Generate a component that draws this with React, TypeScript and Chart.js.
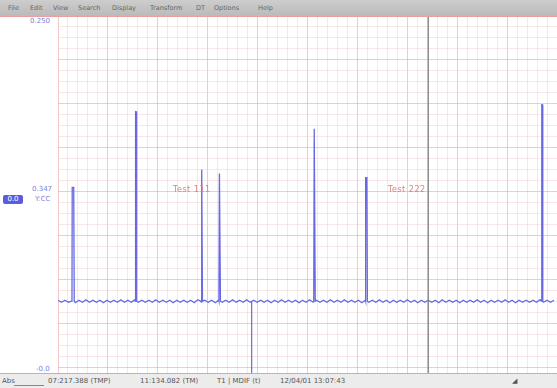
import React, { useEffect, useRef } from "react";
import { Chart, registerables } from "chart.js";

Chart.register(...registerables);

// Time axis in units (2 units per pixel column), value axis in trace units
const X_MIN = 0;
const X_MAX = 1000;
const Y_MIN = -72;
const Y_MAX = 285;

// Baseline ripple samples (every 7 time units)
const RIPPLE_STEP = 7;
const RIPPLE = [
  1, -1, 1, -1, 1, -1.5, 1, -1, 1.5, -1, 1, -1, 1, -1.5, 1, -1, 1, -1, 1.5, -1,
  1, -1, 1.5, -1, 1, -1, 1, -1, 1.5, -1, 1, -1, 1, -1.5, 1, -1, 1, -1, 1, -1.5,
  1.5, -1, 1, -1, 1, -1.5, 1, -1, 1, -1, 1.5, -1, 1, -1, 1.5, -1, 1, -1, 1, -1,
  1, -1.5, 1, -1, 1.5, -1, 1, -1, 1, -1.5, 1, -1, 1.5, -1, 1, -1, 1, -1, 1.5, -1,
  1, -1, 1.5, -1, 1, -1, 1, -1.5, 1, -1, 1, -1, 1.5, -1, 1, -1.5, 1, -1, 1, -1,
  1.5, -1, 1, -1.5, 1, -1, 1, -1, 1, -1.5, 1.5, -1, 1, -1, 1, -1.5, 1, -1, 1, -1,
  1.5, -1, 1, -1.5, 1, -1, 1, -1, 1.5, -1, 1, -1.5, 1, -1, 1, -1, 1, -1, 1.5, -1,
  1, -1, 1,
];

// Spikes: position and peak height
const SPIKE_X = [30, 156, 288, 324, 514, 618, 970];
const SPIKE_H = [114, 190, 132, 128, 173, 124, 197];
const SPIKE_W = [3, 1, 1, 1, 1, 2, 1];

// Negative glitch
const DIP_X = [388];
const DIP_Y = [-80];

// Cursor
const CURSOR_X = 742;

const MENU_ITEMS = ["File", "Edit", "View", "Search", "Display", "Transform", "DT", "Options", "Help"];
const MENU_LEFT = [8, 30, 53, 78, 112, 150, 196, 214, 258];

export default function App() {
  const ref = useRef<HTMLCanvasElement | null>(null);

  useEffect(() => {
    document.body.style.margin = "0";
    const pts: { x: number; y: number }[] = [];
    RIPPLE.forEach((v, i) => pts.push({ x: i * RIPPLE_STEP, y: v }));
    SPIKE_X.forEach((sx, i) => {
      const w = SPIKE_W[i];
      pts.push({ x: sx - 1 - w / 2, y: 0 });
      pts.push({ x: sx - w / 2, y: SPIKE_H[i] });
      pts.push({ x: sx + w / 2, y: SPIKE_H[i] });
      pts.push({ x: sx + 1 + w / 2, y: 0 });
    });
    const dipPts = DIP_X.map((dx, i) => [
      { x: dx, y: 0 },
      { x: dx, y: DIP_Y[i] },
    ]).flat();
    pts.sort((a, b) => a.x - b.x);

    const xMinor = (v: number) => (v % 100 === 0 ? "rgba(236,165,165,0.6)" : "rgba(244,205,205,0.5)");
    const yMinor = (v: number) => ((v - 110) % 44 === 0 ? "rgba(236,165,165,0.6)" : "rgba(244,205,205,0.5)");

    const chart = new Chart(ref.current!, {
      type: "line",
      data: {
        datasets: [
          {
            data: [{ x: CURSOR_X, y: Y_MIN }, { x: CURSOR_X, y: Y_MAX }],
            borderColor: "rgba(125,125,125,0.85)",
            borderWidth: 1.5,
            pointRadius: 0,
          },
          {
            data: dipPts,
            borderColor: "rgba(110,110,225,0.8)",
            borderWidth: 1,
            pointRadius: 0,
          },
          {
            data: pts,
            borderColor: "rgb(104,104,228)",
            borderWidth: 1.3,
            pointRadius: 0,
            tension: 0,
          },
        ],
      },
      options: {
        animation: false,
        responsive: false,
        maintainAspectRatio: false,
        layout: { padding: 0 },
        plugins: { legend: { display: false }, tooltip: { enabled: false } },
        scales: {
          x: {
            type: "linear",
            min: X_MIN,
            max: X_MAX,
            border: { display: false },
            ticks: { display: false },
            grid: {
              drawTicks: false,
              color: (ctx: any) => xMinor(ctx.tick.value),
              lineWidth: 1,
            },
            afterBuildTicks: (s: any) => {
              const t = [];
              for (let v = X_MIN; v <= X_MAX; v += 20) t.push({ value: v });
              s.ticks = t;
            },
          },
          y: {
            type: "linear",
            min: Y_MIN,
            max: Y_MAX,
            border: { display: false },
            ticks: { display: false },
            grid: {
              drawTicks: false,
              color: (ctx: any) => yMinor(ctx.tick.value),
              lineWidth: 1,
            },
            afterBuildTicks: (s: any) => {
              const t = [];
              for (let v = -66; v <= Y_MAX; v += 11) t.push({ value: v });
              s.ticks = t;
            },
          },
        },
      },
    });
    return () => chart.destroy();
  }, []);

  const small: React.CSSProperties = {
    position: "absolute",
    fontFamily: "'DejaVu Sans', sans-serif",
    fontSize: 7,
    lineHeight: "8px",
    whiteSpace: "nowrap",
  };

  return (
    <div style={{ position: "relative", width: 557, height: 388, background: "#fff", overflow: "hidden" }}>
      {/* menu bar */}
      <div
        style={{
          position: "absolute",
          left: 0,
          top: 0,
          width: 557,
          height: 16,
          background: "linear-gradient(#cdcdcd,#bababa)",
          borderBottom: "1px solid #e8a0a0",
        }}
      >
        {MENU_ITEMS.map((m, i) => (
          <span key={m} style={{ ...small, top: 4, left: MENU_LEFT[i], color: "#666", fontSize: 6.5 }}>
            {m}
          </span>
        ))}
      </div>

      {/* plot canvas */}
      <div style={{ position: "absolute", left: 58, top: 17, width: 499, height: 356 }}>
        <canvas ref={ref} width={499} height={356} style={{ display: "block" }} />
      </div>

      {/* in-plot labels */}
      <span style={{ ...small, left: 173, top: 186, color: "#dc8080", fontSize: 8, letterSpacing: 0.5 }}>Test 111</span>
      <span style={{ ...small, left: 388, top: 186, color: "#dc8080", fontSize: 8, letterSpacing: 0.5 }}>Test 222</span>

      {/* left side labels */}
      <span style={{ ...small, left: 30, top: 17, color: "#8080e0" }}>0.250</span>
      <span style={{ ...small, left: 32, top: 185, color: "#8080e0" }}>0.347</span>
      <span style={{ ...small, left: 35, top: 195, color: "#8080e0" }}>Y:CC</span>
      <span
        style={{
          ...small,
          left: 3,
          top: 195,
          width: 20,
          height: 9,
          background: "#5c5ce2",
          color: "#fff",
          textAlign: "center",
          borderRadius: 2,
        }}
      >
        0.0
      </span>
      <span style={{ ...small, left: 36, top: 365, color: "#8080e0" }}>-0.0</span>

      {/* bottom line */}
      <div style={{ position: "absolute", left: 0, top: 373, width: 557, height: 1, background: "#e8a0a0" }} />

      {/* status bar */}
      <div style={{ position: "absolute", left: 0, top: 374, width: 557, height: 14, background: "#ececec" }}>
        <span style={{ ...small, left: 2, top: 3, color: "#555" }}>Abs</span>
        <div style={{ position: "absolute", left: 14, top: 2, width: 30, height: 9, borderBottom: "1px solid #888" }} />
        <span style={{ ...small, left: 48, top: 3, color: "#555" }}>07:217.388 (TMP)</span>
        <span style={{ ...small, left: 140, top: 3, color: "#555" }}>11:134.082 (TM)</span>
        <span style={{ ...small, left: 217, top: 3, color: "#555" }}>T1 | MDIF (t)</span>
        <span style={{ ...small, left: 280, top: 3, color: "#555" }}>12/04/01 13:07:43</span>
        <span style={{ ...small, left: 512, top: 3, color: "#555" }}>◢</span>
      </div>
    </div>
  );
}
